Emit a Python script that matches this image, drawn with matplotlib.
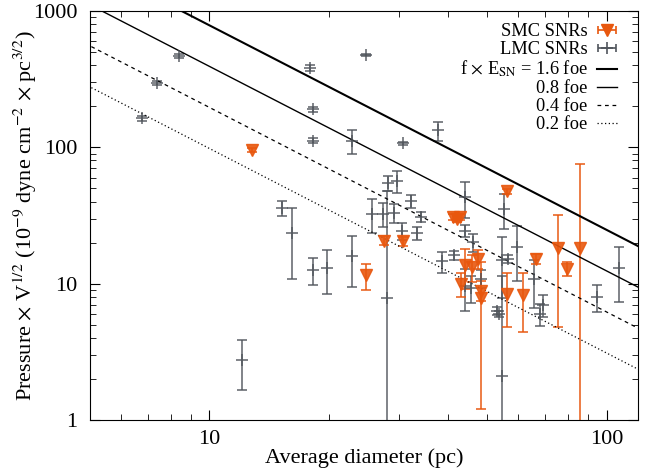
import numpy as np
import matplotlib
matplotlib.use("Agg")
import matplotlib.pyplot as plt

plt.rcParams['font.family'] = ['Liberation Serif', 'DejaVu Serif']
plt.rcParams['mathtext.fontset'] = 'stix'

# SMC remnants: diameter (pc), pressure*V^1/2, symmetric error
smc_d = [12.8, 24.8, 27.5, 30.7, 41.0, 42.0, 42.7, 43.1, 43.9, 45.8,
         47.4, 48.4, 48.4, 56.3, 56.0, 61.7, 66.4, 75.4, 79.4, 85.7]
smc_p = [95, 11.5, 20.7, 20.5, 31, 30, 31, 9.95, 13.6, 13.2,
         15.2, 8.9, 7.85, 47.7, 8.4, 8.2, 15.2, 18.3, 12.8, 18.3]
smc_e = [3, 2.5, 1.5, 1.5, 1.5, 1.5, 1.5, 2.0, 4.5, 2.9,
         2.3, 1.5, 6.65, 2.0, 3.6, 3.8, 1.2, 13.5, 1.5, 57]

# LMC remnants
lmc_d = [6.75, 7.37, 8.37, 17.96, 18.2, 18.2, 24.8, 22.9, 30.7, 37.7,
         15.2, 16.1, 18.25, 19.8, 22.8, 12.1, 28.0, 25.6, 27.4, 28.1,
         29.7, 29.2, 32.2, 34.1, 30.5, 33.3, 38.5, 41.4, 46.1, 43.9,
         43.9, 43.9, 45.7, 48.4, 55.1, 59.4, 54.4, 56.6, 54.4, 53.0,
         53.5, 65.8, 69.0, 68.0, 94.6, 107.4]
lmc_p = [163, 296, 467, 381, 190, 112, 475, 112, 107, 133,
         35.6, 23.4, 12.5, 13.0, 16.0, 2.75, 7.9, 32.5, 32.5, 54.6,
         56.5, 33.1, 40.3, 30.7, 24.4, 23.4, 14.6, 16.1, 20.1, 43.1,
         24.5, 9.6, 9.3, 10.9, 35.4, 18.5, 14.8, 15.2, 2.1, 6.3,
         6.0, 10.8, 7.0, 6.0, 8.0, 13.0]
lmc_e = [6, 10, 15, 20, 8, 4, 10, 23, 3, 21,
         4.5, 12.5, 2.8, 4.6, 6.5, 1.1, 40, 9, 6.3, 7,
         10, 5.4, 4.7, 2.6, 3.5, 2.5, 2.6, 1.2, 2.9, 13,
         2.5, 3.3, 2.1, 1.6, 10.4, 8, 7, 1, 9.3, 0.4,
         0.3, 4.2, 1.3, 1.1, 1.8, 5.7]

# model lines: P V^1/2 = coef * E * D^-1.5
energies = [1.6, 0.8, 0.4, 0.2]
line_labels = [r'f $\times$ E$_{\rm SN}$ = 1.6 foe', '0.8 foe', '0.4 foe', '0.2 foe']
coef = 15500.0

orange = '#e8570e'
gray = '#50555c'

fig = plt.figure(figsize=(6.51, 4.75), dpi=100)
ax = fig.add_axes([0.138, 0.1158, 0.842, 0.8612])
ax.set_xscale('log')
ax.set_yscale('log')

def err_pair(p, e):
    p = np.array(p)
    e = np.array(e)
    lo = np.minimum(e, p - 1e-3)
    return [lo, e]

ax.errorbar(lmc_d, lmc_p, yerr=err_pair(lmc_p, lmc_e), fmt='+', color=gray,
            ms=8, mew=1.2, elinewidth=1.2, capsize=3.5, capthick=1.2, alpha=0.85)
ax.errorbar(smc_d, smc_p, yerr=err_pair(smc_p, smc_e), fmt='v', color=orange,
            ms=8.5, elinewidth=1.2, capsize=3.5, capthick=1.2, alpha=0.9)

dd = np.logspace(np.log10(4), np.log10(130), 100)
styles = [dict(ls='-', lw=1.5), dict(ls='-', lw=1.0),
          dict(ls=(0, (3, 3)), lw=0.9), dict(ls=(0, (1, 2)), lw=0.9)]
line_handles = []
for E, st in zip(energies, styles):
    h, = ax.plot(dd, coef * E * dd ** -1.5, color='black', **st)
    line_handles.append(h)

# legend proxies, gnuplot-like horizontal samples
hs = ax.errorbar([np.nan], [np.nan], xerr=[1], fmt='v', color=orange, ms=8.5,
                 elinewidth=1.2, capsize=3, capthick=1.2)
hl = ax.errorbar([np.nan], [np.nan], xerr=[1], fmt='+', color=gray, ms=8,
                 mew=1.2, elinewidth=1.2, capsize=3, capthick=1.2)
ax.legend([hs, hl] + line_handles, ['SMC SNRs', 'LMC SNRs'] + line_labels,
          loc='upper right', bbox_to_anchor=(0.975, 0.988), frameon=False,
          markerfirst=False, fontsize=13.2, handlelength=1.1, handletextpad=0.5,
          labelspacing=0.05, borderaxespad=0.0)

ax.set_xlim(5, 120)
ax.set_ylim(1, 1000)
ax.set_xticks([10, 100])
ax.set_xticklabels(['10', '100'])
ax.set_yticks([1, 10, 100, 1000])
ax.set_yticklabels(['1', '10', '100', '1000'])
ax.tick_params(which='both', direction='in', top=True, right=True, labelsize=16)
ax.tick_params(which='major', length=7)
ax.tick_params(which='minor', length=4)
ax.tick_params(axis='y', which='major', pad=9)
ax.tick_params(axis='x', which='major', pad=7)
ax.set_xlabel('Average diameter (pc)', fontsize=16, labelpad=0)
ax.set_ylabel(r'Pressure $\times$ V$^{1/2}$ (10$^{-9}$ dyne cm$^{-2}$ $\times$ pc$^{3/2}$)',
              fontsize=16)
ax.yaxis.set_label_coords(-0.093, 0.5)

fig.savefig('out.png', dpi=100)
